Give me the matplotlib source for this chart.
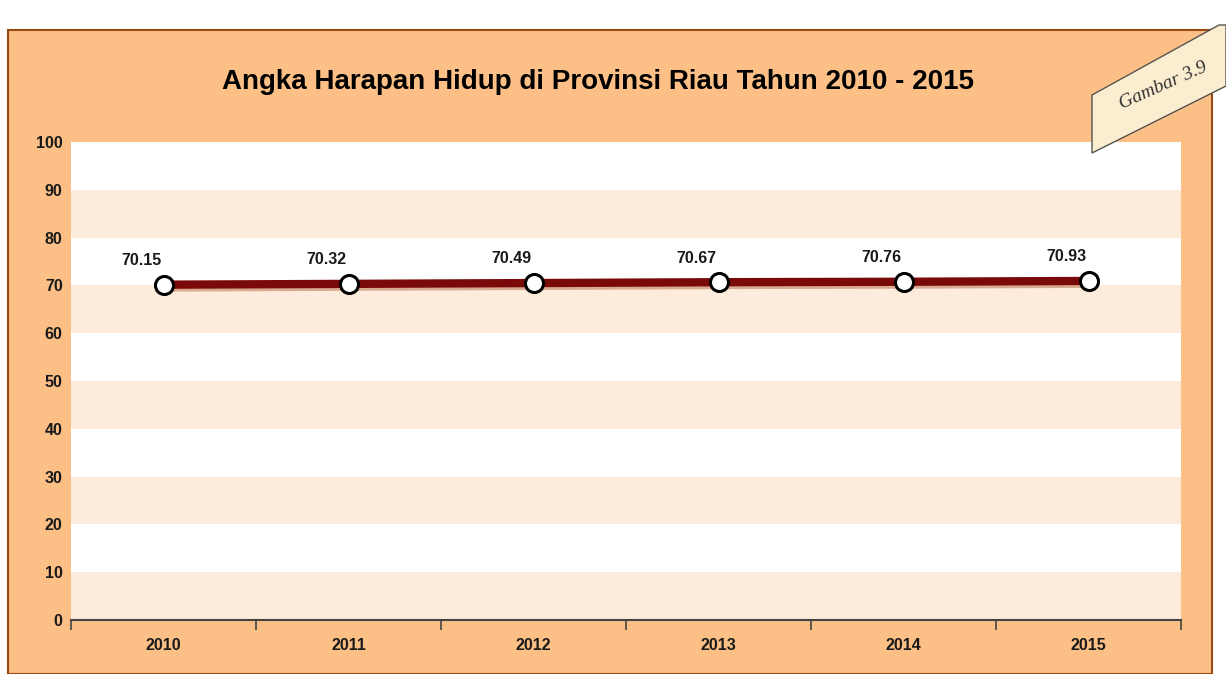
import numpy as np
import matplotlib.pyplot as plt
from matplotlib.patches import Rectangle, Polygon
import matplotlib.patheffects as pe

years = ["2010", "2011", "2012", "2013", "2014", "2015"]
ahh = [70.15, 70.32, 70.49, 70.67, 70.76, 70.93]
yticks = list(range(0, 101, 10))

W, H = 1226, 674
fig = plt.figure(figsize=(W / 100, H / 100), dpi=100)
fig.patch.set_facecolor("white")
plt.rcParams["font.family"] = ["Liberation Sans", "DejaVu Sans"]

# orange frame
frame = Rectangle((8 / W, 0), (1212 - 8) / W, (H - 30) / H, transform=fig.transFigure,
                  facecolor="#fcbf85", edgecolor="#9a4a10", lw=1.5, zorder=-1)
fig.add_artist(frame)

ax = fig.add_axes([71 / W, (H - 620) / H, (1181 - 71) / W, (620 - 142) / H])
ax.set_facecolor("white")
x = np.arange(len(years))
ax.set_xlim(-0.5, len(years) - 0.5)
ax.set_ylim(0, 100)

for i, lo in enumerate(yticks[:-1]):
    if i % 2 == 0:
        ax.axhspan(lo, lo + 10, color="#fdebdb", lw=0, zorder=0)

ax.plot(x, ahh, color="#7a0a0a", lw=6, zorder=3, solid_capstyle="butt",
        path_effects=[pe.SimpleLineShadow(offset=(1.5, -2), shadow_color="#c08060", alpha=0.6), pe.Normal()])
ax.plot(x, ahh, "o", ms=13, mfc="white", mec="black", mew=2.2, zorder=4)

for xi, v in zip(x, ahh):
    ax.annotate(f"{v:.2f}", (xi, v), xytext=(-16, 12), textcoords="offset points",
                ha="center", va="bottom", fontsize=11.5, fontweight="bold", color="#1a1a1a")

ax.set_yticks(yticks)
ax.set_yticklabels([str(t) for t in yticks], fontsize=11.5, fontweight="bold", color="#1a1a1a")
ax.tick_params(axis="y", length=0, pad=6)

ax.set_xticks(x)
ax.set_xticklabels(years, fontsize=11.5, fontweight="bold", color="#1a1a1a")
ax.tick_params(axis="x", which="major", length=0, pad=13)
ax.set_xticks(np.arange(-0.5, len(years)), minor=True)
ax.tick_params(axis="x", which="minor", length=7, width=1.2, color="#444444", direction="out")

for s in ["top", "right", "left"]:
    ax.spines[s].set_visible(False)
ax.spines["bottom"].set_color("#444444")
ax.spines["bottom"].set_linewidth(1.5)

fig.text(598 / W, 1 - 82 / H, "Angka Harapan Hidup di Provinsi Riau Tahun 2010 - 2015",
         ha="center", va="center", fontsize=20, fontweight="bold", color="black")

# "Gambar" tag
pts = [(1092, 95), (1219, 25), (1226, 25), (1226, 86), (1092, 153)]
tag = Polygon([(px / W, 1 - py / H) for px, py in pts], closed=True, transform=fig.transFigure,
              facecolor="#fbedcf", edgecolor="#555555", lw=1.0, zorder=5)
fig.add_artist(tag)
fig.text(1163 / W, 1 - 86 / H, "Gambar 3.9", ha="center", va="center", rotation=24,
         fontsize=14, fontstyle="italic", family=["Liberation Serif", "DejaVu Serif"],
         color="#333333", zorder=6)

fig.savefig("out.png", dpi=100, facecolor=fig.get_facecolor())
